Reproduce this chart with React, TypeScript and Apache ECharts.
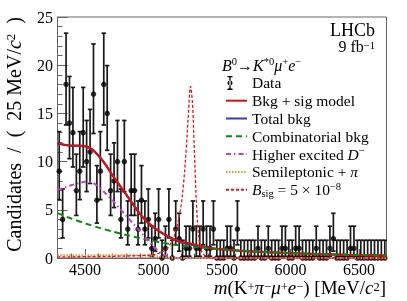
import React, { useEffect, useRef } from 'react';
import * as echarts from 'echarts';

// ---------------- data ----------------
const BIN_START = 4300;
const BIN_WIDTH = 25;
const COUNTS = [
  9, 4, 18, 14, 13, 7, 9, 13, 10, 11,
  17, 6, 9, 18, 15, 7, 8, 10, 4, 10,
  3, 7, 7, 3, 6, 3, 4, 1, 2, 4,
  0, 1, 4, 0, 3, 2, 0, 1, 1, 3,
  1, 1, 3, 1, 1, 3, 0, 0, 0, 1,
  1, 0, 3, 0, 0, 0, 0, 0, 1, 0,
  0, 1, 0, 0, 0, 1, 1, 0, 0, 1,
  1, 0, 0, 0, 0, 1, 0, 0, 0, 1,
  2, 0, 0, 0, 0, 1, 1, 0, 0, 0,
  0, 0, 0, 0, 0, 0,
];

const BKG_SIG_MODEL = [
  [4300, 11.9], [4350, 11.75], [4400, 11.65], [4450, 11.65], [4500, 11.6], [4550, 11.3],
  [4600, 10.6], [4650, 9.7], [4700, 8.6], [4750, 7.6], [4800, 6.6], [4850, 5.6],
  [4900, 4.6], [4950, 3.8], [5000, 3.2], [5050, 2.7], [5100, 2.3], [5150, 1.95],
  [5200, 1.7], [5250, 1.55], [5300, 1.4], [5350, 1.2], [5400, 1.05], [5500, 0.9],
  [5600, 0.78], [5800, 0.62], [6000, 0.5], [6200, 0.4], [6400, 0.33], [6700, 0.25],
];
const TOTAL_BKG = [
  [4300, 11.9], [4350, 11.75], [4400, 11.65], [4450, 11.65], [4500, 11.6], [4550, 11.3],
  [4600, 10.6], [4650, 9.7], [4700, 8.6], [4750, 7.6], [4800, 6.6], [4850, 5.6],
  [4900, 4.6], [4950, 3.8], [5000, 3.2], [5050, 2.7], [5100, 2.28], [5150, 1.9],
  [5200, 1.6], [5250, 1.45], [5300, 1.32], [5350, 1.16], [5400, 1.04], [5500, 0.9],
  [5600, 0.78], [5800, 0.62], [6000, 0.5], [6200, 0.4], [6400, 0.33], [6700, 0.25],
];
const COMBINATORIAL = [
  [4300, 4.65], [4400, 4.1], [4500, 3.6], [4600, 3.15], [4700, 2.75], [4800, 2.4],
  [4900, 2.05], [5000, 1.75], [5100, 1.5], [5200, 1.3], [5300, 1.15], [5400, 1.0],
  [5500, 0.9], [5700, 0.72], [6000, 0.52], [6300, 0.38], [6700, 0.25],
];
const HIGHER_D = [
  [4300, 7.05], [4350, 7.3], [4400, 7.55], [4450, 7.75], [4500, 7.9], [4550, 7.85],
  [4600, 7.4], [4650, 6.7], [4700, 6.0], [4750, 5.2], [4800, 4.4], [4850, 3.6],
  [4900, 2.8], [4950, 2.0], [5000, 1.2], [5050, 0.55], [5100, 0.2], [5150, 0.05],
  [5200, 0], [5400, 0], [6700, 0],
];
const SEMILEPTONIC = [
  [4300, 0.28], [4600, 0.28], [4900, 0.27], [5000, 0.22], [5050, 0.12], [5100, 0.04],
  [5150, 0], [5400, 0], [6700, 0],
];
const SIGNAL = [
  [4300, 0.12], [4600, 0.15], [4900, 0.25], [5000, 0.35], [5050, 0.55], [5100, 1.0],
  [5140, 1.9], [5170, 3.2], [5200, 5.3], [5220, 7.8], [5240, 11.5], [5255, 15],
  [5270, 17.8], [5285, 16], [5295, 12.5], [5305, 8.5], [5315, 5.2], [5325, 3.0],
  [5340, 1.3], [5360, 0.45], [5400, 0.1], [5450, 0.02], [5500, 0], [6700, 0],
];

const X_MIN = 4300;
const X_MAX = 6700;
const X_MAJOR = [4500, 5000, 5500, 6000, 6500];
const X_MINOR = [
  4300, 4400, 4500, 4600, 4700, 4800, 4900, 5000, 5100, 5200, 5300, 5400, 5500,
  5600, 5700, 5800, 5900, 6000, 6100, 6200, 6300, 6400, 6500, 6600, 6700,
];
const Y_MAX = 25;
const Y_INTERVAL = 5;

// ---------------- helpers ----------------
const FONT = '"Liberation Serif", "DejaVu Serif", serif';
const TITLE_SIZE = 20;
const XTITLE_SIZE = 19;

function poisCdf(n: number, mu: number) {
  let term = Math.exp(-mu);
  let s = term;
  for (let k = 1; k <= n; k++) {
    term *= mu / k;
    s += term;
  }
  return s;
}
function solveMu(n: number, target: number) {
  let lo = 0;
  let hi = 100;
  for (let i = 0; i < 80; i++) {
    const mid = (lo + hi) / 2;
    if (poisCdf(n, mid) > target) lo = mid;
    else hi = mid;
  }
  return (lo + hi) / 2;
}
const ALPHA = 0.158655;
function garwood(n: number): [number, number] {
  const up = solveMu(n, ALPHA);
  const low = n === 0 ? 0 : solveMu(n - 1, 1 - ALPHA);
  return [low, up];
}

const supStyle = (fs: number, lh: number) => ({ fontSize: fs, lineHeight: lh, verticalAlign: 'top', fontFamily: FONT, fill: '#000' });
const itStyle = (fs: number, lh: number) => ({ fontStyle: 'italic', fontSize: fs, lineHeight: lh, fontFamily: FONT, fill: '#000' });

export default function App() {
  const ref = useRef<HTMLDivElement>(null);

  useEffect(() => {
    if (!ref.current) return;
    const chart = echarts.init(ref.current, undefined, { renderer: 'svg' });

    const centers = COUNTS.map((_, i) => BIN_START + BIN_WIDTH * (i + 0.5));
    const points = COUNTS.map((c, i) => [centers[i], c]);
    const bars = COUNTS.map((c, i) => {
      const [lo, hi] = garwood(c);
      return [centers[i], lo, hi];
    });

    const legendNames: Record<string, string> = {
      'Data': 'Data',
      'Bkg + sig model': 'Bkg + sig model',
      'Total bkg': 'Total bkg',
      'Combinatorial bkg': 'Combinatorial bkg',
      'Higher excited D-': 'Higher excited {it|D}{sup|−}',
      'Semileptonic + pi': 'Semileptonic + {it|π}',
      'Bsig': '{it|B}{sub|sig} = 5 × 10{sup|−8}',
    };

    const dataIcon =
      'path://M3,0h5v1.3h-5z M4.85,0h1.3v14h-1.3z M3,12.7h5v1.3h-5z M5.5,4.5a2.5,2.5 0 1,0 0.001,0z M21,7h0.01v0.01h-0.01z';

    const lineSeries = (name: string, data: number[][], color: string, width: number, type: any, smooth: number) => ({
      name,
      type: 'line',
      data,
      smooth,
      showSymbol: false,
      symbol: 'none',
      clip: true,
      lineStyle: { color, width, type },
      itemStyle: { color },
      z: 5,
    });
    const hiddenSym = { opacity: 0, borderWidth: 0 };

    const option: any = {
      animation: false,
      grid: {
        left: 57.5,
        right: 20.5,
        top: 17,
        bottom: 43,
        show: true,
        borderColor: '#666',
        borderWidth: 1,
        backgroundColor: 'transparent',
      },
      xAxis: [
        {
          type: 'value',
          min: X_MIN,
          max: X_MAX,
          splitLine: { show: false },
          axisLine: { show: true, lineStyle: { color: '#666', width: 1 } },
          axisTick: { show: true, inside: true, length: 9, customValues: X_MAJOR, lineStyle: { color: '#666', width: 1 } },
          axisLabel: {
            show: true,
            customValues: X_MAJOR,
            margin: 4,
            color: '#000',
            fontSize: 16,
            lineHeight: 15,
            fontFamily: FONT,
            formatter: (v: number) => String(v),
          },
        },
        {
          type: 'value',
          min: X_MIN,
          max: X_MAX,
          position: 'bottom',
          splitLine: { show: false },
          axisLine: { show: false },
          axisTick: { show: true, inside: true, length: 4.5, customValues: X_MINOR, lineStyle: { color: '#666', width: 1 } },
          axisLabel: { show: false },
        },
      ],
      yAxis: {
        type: 'value',
        min: 0,
        max: Y_MAX,
        interval: Y_INTERVAL,
        splitLine: { show: false },
        axisLine: { show: true, lineStyle: { color: '#666', width: 1 } },
        axisTick: { show: true, inside: true, length: 10, lineStyle: { color: '#666', width: 1 } },
        minorTick: { show: true, splitNumber: 5, length: 5, lineStyle: { color: '#666', width: 1 } },
        minorSplitLine: { show: false },
        axisLabel: { margin: 4.5, color: '#000', fontSize: 16, lineHeight: 15, fontFamily: FONT },
      },
      legend: {
        orient: 'vertical',
        left: 225,
        top: 74,
        padding: 0,
        itemGap: 0,
        itemWidth: 21,
        itemHeight: 14,
        selectedMode: false,
        textStyle: {
          fontFamily: FONT,
          fontSize: 15.5,
          lineHeight: 17.8,
          color: '#000',
          rich: {
            it: itStyle(15.5, 17.8),
            sup: supStyle(10.5, 10),
            sub: { fontSize: 10.5, lineHeight: 8, verticalAlign: 'bottom', fontFamily: FONT, fill: '#000' },
          },
        },
        formatter: (name: string) => legendNames[name] ?? name,
        data: [
          { name: 'Data', icon: dataIcon },
          { name: 'Bkg + sig model', itemStyle: hiddenSym },
          { name: 'Total bkg', itemStyle: hiddenSym },
          { name: 'Combinatorial bkg', itemStyle: hiddenSym },
          { name: 'Higher excited D-', itemStyle: hiddenSym },
          { name: 'Semileptonic + pi', itemStyle: hiddenSym },
          { name: 'Bsig', itemStyle: hiddenSym },
        ],
      },
      graphic: [
        {
          type: 'text',
          x: 375,
          y: 30,
          style: { text: 'LHCb', align: 'right', verticalAlign: 'middle', fontSize: 18, lineHeight: 14, fontFamily: FONT, fill: '#000' },
        },
        {
          type: 'text',
          x: 375,
          y: 46.5,
          style: {
            text: '9 fb{sup|−1}',
            align: 'right',
            verticalAlign: 'middle',
            fontSize: 16,
            fontFamily: FONT,
            lineHeight: 13,
            fill: '#000',
            rich: { sup: supStyle(10.5, 7) },
          },
        },
        {
          type: 'text',
          x: 222,
          y: 65,
          style: {
            text: '{it|B}{sup|0}→{it|K}{sup|*0}{it|μ}{sup|+}{it|e}{sup|−}',
            align: 'left',
            verticalAlign: 'middle',
            fontSize: 16,
            fontFamily: FONT,
            lineHeight: 18,
            fill: '#000',
            rich: { it: itStyle(16, 18), sup: supStyle(10.5, 10) },
          },
        },
        {
          type: 'text',
          x: 14,
          y: 17,
          rotation: Math.PI / 2,
          style: {
            text: 'Candidates  /  (  25 MeV/{it|c}{sup|2}  )',
            align: 'right',
            verticalAlign: 'middle',
            fontSize: TITLE_SIZE,
            fontFamily: FONT,
            lineHeight: 20,
            fill: '#000',
            rich: { it: itStyle(TITLE_SIZE, 20), sup: supStyle(13, 12) },
          },
        },
        {
          type: 'text',
          x: 386,
          y: 287,
          style: {
            text: '{it|m}(K{sup|+}{it|π}{sup|−}{it|μ}{sup|+}{it|e}{sup|−}) [MeV/{it|c}{sup|2}]',
            align: 'right',
            verticalAlign: 'middle',
            fontSize: XTITLE_SIZE,
            fontFamily: FONT,
            lineHeight: 14,
            fill: '#000',
            rich: { it: itStyle(XTITLE_SIZE, 14), sup: supStyle(12.5, 7) },
          },
        },
      ],
      series: [
        {
          name: 'Data',
          type: 'custom',
          data: bars,
          encode: { x: 0, y: [1, 2] },
          clip: true,
          z: 3,
          itemStyle: { color: '#000' },
          renderItem: (params: any, api: any) => {
            const x = api.value(0);
            const lo = api.value(1);
            const hi = api.value(2);
            const pLo = api.coord([x, lo]);
            const pHi = api.coord([x, hi]);
            const cw = 2.2;
            const st = { stroke: '#1a1a1a', lineWidth: 1.7 };
            return {
              type: 'group',
              children: [
                { type: 'line', shape: { x1: pLo[0], y1: pLo[1], x2: pHi[0], y2: pHi[1] }, style: st },
                { type: 'line', shape: { x1: pLo[0] - cw, y1: pLo[1], x2: pLo[0] + cw, y2: pLo[1] }, style: st },
                { type: 'line', shape: { x1: pHi[0] - cw, y1: pHi[1], x2: pHi[0] + cw, y2: pHi[1] }, style: st },
              ],
            };
          },
        },
        {
          name: 'Data',
          type: 'scatter',
          data: points,
          symbol: 'circle',
          symbolSize: 5.5,
          itemStyle: { color: '#000' },
          clip: true,
          z: 4,
        },
        lineSeries('Total bkg', TOTAL_BKG, '#3a3ab8', 2, 'solid', 0.3),
        lineSeries('Bkg + sig model', BKG_SIG_MODEL, '#d01010', 2.2, 'solid', 0.3),
        lineSeries('Combinatorial bkg', COMBINATORIAL, '#0a8a0a', 2, [6, 4], 0.3),
        lineSeries('Higher excited D-', HIGHER_D, '#c040c8', 2, [5, 3, 1.5, 3], 0.3),
        lineSeries('Semileptonic + pi', SEMILEPTONIC, '#f09030', 2, [1.5, 1.5], 0.3),
        lineSeries('Bsig', SIGNAL, '#ee1111', 1.3, [3, 2], 0.35),
      ],
    };

    chart.setOption(option);
    return () => {
      chart.dispose();
    };
  }, []);

  return <div ref={ref} style={{ position: 'fixed', left: 0, top: 0, width: 407, height: 301 }} />;
}
